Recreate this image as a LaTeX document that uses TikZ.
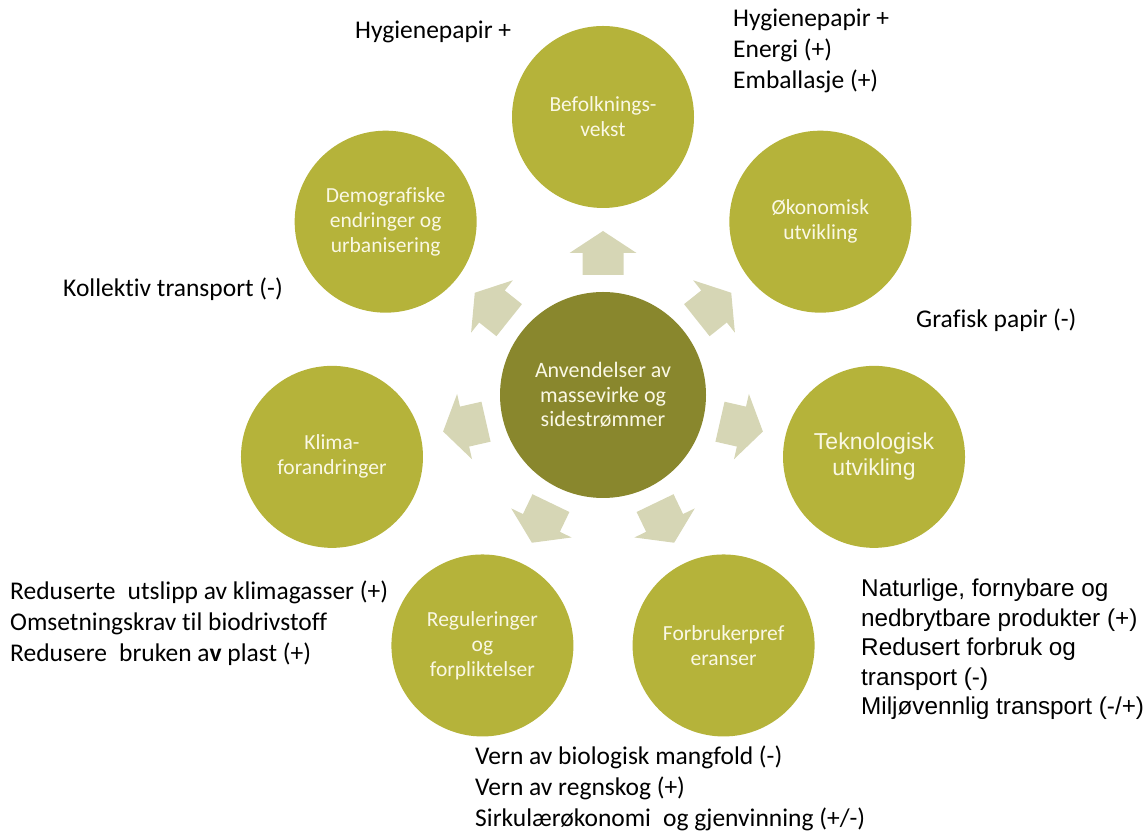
\documentclass[tikz,border=0pt]{standalone}
\usepackage{fontspec}
\setmainfont{Carlito}[Ligatures=NoCommon]
\newfontfamily\arialfont{Liberation Sans}
\usetikzlibrary{calc,positioning}
\definecolor{olivefill}{RGB}{181,179,58}
\definecolor{hubfill}{RGB}{137,135,45}
\definecolor{pilfill}{RGB}{214,214,181}
\definecolor{kremtekst}{RGB}{250,248,228}
\tikzset{
	driver/.style={circle, fill=olivefill, minimum size=182, inner sep=0pt, align=center, text=kremtekst, font=\fontsize{21.5}{25}\selectfont},
	hubnode/.style={circle, fill=hubfill, minimum size=206, inner sep=0pt, align=center, text=kremtekst, font=\fontsize{22}{24.5}\selectfont},
	blockarrow/.style={fill=pilfill},
	note/.style={anchor=base west, align=left, inner sep=0pt, font=\fontsize{25.5}{31}\selectfont},
	arialnote/.style={note, font=\arialfont\fontsize{24.3}{29.5}\selectfont}
}
\begin{document}
\begin{tikzpicture}[x=1pt, y=1pt]
	\def\orbit{278}
	\useasboundingbox (0,0) rectangle (1148,834);
	% midten
	\node[hubnode] (hub) at (603,439) {Anvendelser av\\massevirke og\\sidestrømmer};
	% drivere rundt
	\node[driver] (befolkning) at ($(hub)+(90:\orbit)$) {Befolknings-\\vekst};
	\node[driver] (demografi) at ($(hub)+(141.43:\orbit)$) {Demografiske\\endringer og\\urbanisering};
	\node[driver] (klima) at ($(hub)+(192.86:\orbit)$) {Klima-\\forandringer};
	\node[driver] (regulering) at ($(hub)+(244.29:\orbit)$) {Reguleringer\\og\\forpliktelser};
	\node[driver] (forbruker) at ($(hub)+(295.71:\orbit)$) {Forbrukerpref\\eranser};
	\node[driver, font=\arialfont\fontsize{23}{26}\selectfont] (teknologi) at ($(hub)+(347.14:\orbit)$) {Teknologisk\\utvikling};
	\node[driver] (okonomi) at ($(hub)+(38.57:\orbit)$) {Økonomisk\\utvikling};
	% piler
	\foreach \tgt/\ang in {befolkning/90, demografi/141.43, klima/192.86, regulering/244.29, forbruker/295.71, teknologi/347.14, okonomi/38.57}
		\fill[blockarrow, shift={($(hub)!142pt!(\tgt)$)}, rotate=\ang]
			(-22,-20.5) -- (0,-20.5) -- (0,-33.5) -- (22,0) -- (0,33.5) -- (0,20.5) -- (-22,20.5) -- cycle;
	% tekster
	\node[note] (hyg-venstre) at (355,795) {Hygienepapir +};
	\node[note] (hyg-hoyre) at (733,745) {Hygienepapir +\\Energi (+)\\Emballasje (+)};
	\node[note] (kollektiv) at (63,537) {Kollektiv transport (-)};
	\node[note] (grafisk) at (916,506) {Grafisk papir (-)};
	\node[note] (klimatekst) at (10,172) {Reduserte\hspace{0.25em} utslipp av klimagasser (+)\\Omsetningskrav til biodrivstoff\\Redusere\hspace{0.25em} bruken a\textbf{v} plast (+)};
	\node[note] (verntekst) at (475,7) {Vern av biologisk mangfold (-)\\Vern av regnskog (+)\\Sirkulærøkonomi\hspace{0.25em} og gjenvinning (+/-)};
	\node[arialnote] (forbrukertekst) at (861,119) {Naturlige, fornybare og\\nedbrytbare produkter (+)\\Redusert forbruk og\\transport (-)\\Miljøvennlig transport (-/+)};
\end{tikzpicture}
\end{document}
